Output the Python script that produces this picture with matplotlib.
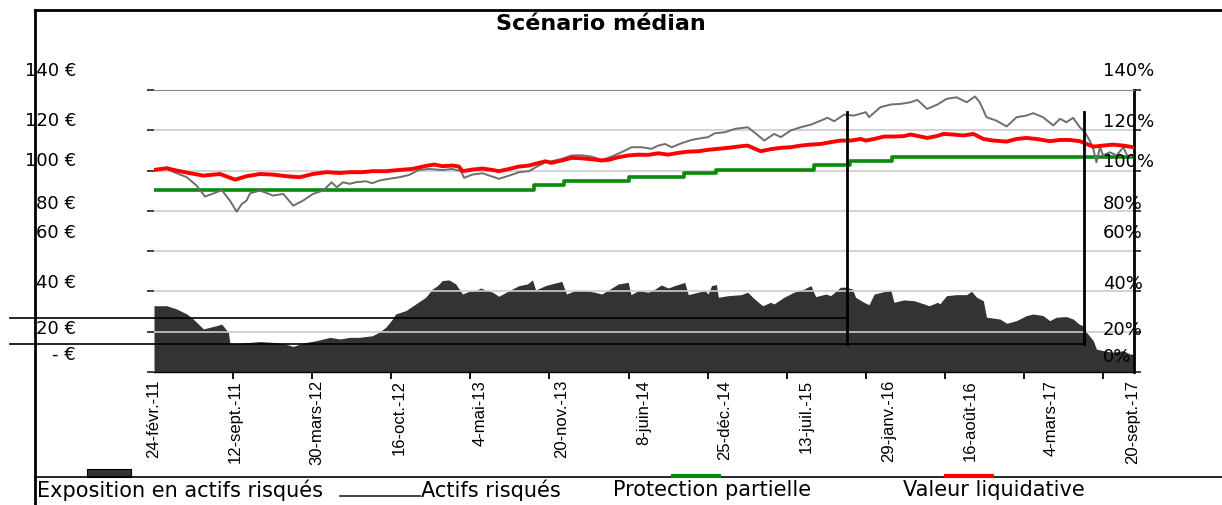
import matplotlib
matplotlib.use("Agg")
import matplotlib.pyplot as plt
import matplotlib.transforms as mtransforms
from matplotlib.lines import Line2D
from matplotlib.patches import Rectangle

# days since 24 Feb 2011
red_days = [0, 32, 57, 91, 125, 167, 205, 234, 268, 301, 335, 369, 402, 436, 470, 495, 527, 552, 586, 620,
            653, 687, 708, 729, 755, 771, 780, 805, 830, 856, 872, 898, 923, 948, 973, 990, 1005, 1031, 1056, 1081,
            1107, 1132, 1149, 1174, 1199, 1225, 1250, 1275, 1300, 1326, 1351, 1376, 1401, 1427, 1452, 1485, 1501,
            1534, 1559, 1585, 1610, 1635, 1661, 1686, 1711, 1736, 1762, 1787, 1800, 1821, 1846, 1871, 1896, 1913,
            1938, 1955, 1981, 1996, 2021, 2046, 2072, 2097, 2122, 2156, 2181, 2206, 2231, 2265, 2291, 2316, 2341,
            2358, 2375, 2400, 2425, 2451, 2476]
red_vals = [100.3, 101.2, 100.0, 98.7, 97.5, 98.3, 95.5, 97.2, 98.3, 98.0, 97.2, 96.7, 98.3, 99.2, 98.8, 99.2,
            99.2, 99.7, 99.7, 100.3, 100.8, 102.3, 103.0, 102.2, 102.5, 102.0, 99.7, 100.5, 101.0, 100.3, 99.7,
            100.8, 102.0, 102.5, 103.8, 104.6, 103.8, 105.0, 106.3, 106.1, 105.6, 105.0, 105.3, 106.6, 107.5,
            107.9, 107.8, 108.6, 107.9, 108.8, 109.4, 109.6, 110.3, 110.8, 111.3, 112.1, 112.4, 109.6, 110.6,
            111.3, 111.6, 112.4, 112.9, 113.2, 114.1, 114.9, 114.9, 115.7, 114.9, 115.7, 116.9, 116.9, 117.1,
            117.9, 116.9, 116.2, 117.2, 118.2, 117.9, 117.4, 118.2, 115.7, 114.9, 114.4, 115.7, 116.2, 115.7,
            114.6, 115.2, 115.2, 114.6, 113.2, 111.9, 112.4, 112.9, 112.4, 111.6]

gray_days = [0, 32, 57, 83, 108, 129, 158, 171, 192, 209, 222, 234, 243, 268, 301, 327, 352, 377, 402, 428,
             449, 462, 478, 495, 510, 536, 552, 569, 594, 620, 645, 670, 695, 729, 755, 776, 784, 805, 830, 856,
             872, 898, 923, 948, 973, 990, 1005, 1031, 1056, 1081, 1107, 1132, 1157, 1182, 1208, 1233, 1258, 1275,
             1292, 1309, 1334, 1359, 1384, 1401, 1418, 1443, 1469, 1501, 1518, 1543, 1568, 1585, 1610, 1635, 1661,
             1686, 1703, 1720, 1745, 1770, 1800, 1808, 1837, 1863, 1888, 1913, 1930, 1955, 1981, 2004, 2029, 2055,
             2076, 2088, 2105, 2130, 2156, 2181, 2206, 2223, 2248, 2274, 2291, 2307, 2324, 2341, 2354, 2366, 2375,
             2383, 2392, 2400, 2417, 2434, 2451, 2463, 2476]
gray_vals = [100.3, 100.8, 98.7, 96.7, 92.5, 87.1, 89.2, 90.4, 85.1, 79.6, 83.4, 85.1, 88.7, 90.1, 87.6, 88.4,
             82.6, 85.1, 88.4, 90.1, 94.2, 91.7, 94.2, 93.4, 94.2, 94.7, 93.7, 95.0, 95.9, 96.7, 97.8, 100.3,
             100.8, 100.3, 100.8, 99.7, 96.4, 98.0, 98.7, 97.0, 95.9, 97.5, 99.2, 99.7, 102.5, 104.1, 104.6,
             105.8, 107.5, 107.6, 106.9, 105.3, 106.9, 109.1, 111.6, 111.6, 110.8, 112.4, 113.2, 111.6, 113.6,
             115.2, 116.1, 116.6, 118.5, 119.0, 120.7, 121.5, 119.0, 114.9, 118.2, 116.6, 119.9, 121.5, 122.8,
             124.8, 126.2, 124.5, 127.8, 127.3, 129.0, 126.5, 131.5, 132.8, 133.1, 133.9, 135.1, 130.6, 132.8,
             135.6, 136.4, 133.9, 136.8, 133.9, 126.5, 124.8, 121.9, 126.5, 127.3, 128.5, 126.5, 122.4, 125.7,
             124.0, 126.2, 121.5, 119.0, 114.9, 110.8, 104.1, 111.6, 107.5, 109.1, 107.5, 111.6, 106.6, 107.9]

green_days = [0, 960, 1036, 1200, 1341, 1422, 1670, 1761, 1867, 2476]
green_vals = [90.5, 92.7, 94.6, 97.0, 98.7, 100.5, 103.0, 104.6, 106.6, 106.6]

expo_days = [0, 32, 57, 83, 99, 125, 158, 171, 188, 192, 217, 243, 268, 301, 327, 352, 377, 411, 445, 470,
             495, 519, 552, 569, 586, 603, 611, 637, 662, 687, 704, 717, 729, 746, 763, 780, 797, 813, 826, 839,
             856, 872, 898, 923, 944, 957, 965, 990, 1005, 1031, 1043, 1064, 1090, 1115, 1132, 1149, 1174, 1199,
             1206, 1225, 1250, 1267, 1283, 1300, 1317, 1342, 1351, 1376, 1393, 1401, 1410, 1422, 1427, 1452, 1485,
             1501, 1518, 1539, 1559, 1568, 1593, 1618, 1644, 1661, 1673, 1699, 1711, 1736, 1749, 1766, 1774, 1795,
             1808, 1821, 1863, 1871, 1896, 1922, 1947, 1960, 1981, 1987, 2004, 2029, 2055, 2067, 2080, 2097, 2105,
             2139, 2156, 2181, 2206, 2223, 2248, 2265, 2282, 2307, 2324, 2341, 2350, 2358, 2375, 2383, 2400, 2425,
             2451, 2468, 2476]
expo_vals = [32.9, 32.9, 31.3, 28.8, 26.3, 21.4, 23.0, 23.8, 19.7, 14.2, 14.2, 14.7, 15.1, 14.7, 14.2, 12.7,
             14.4, 15.6, 17.2, 16.4, 17.2, 17.2, 18.0, 19.7, 22.2, 26.3, 28.8, 30.5, 33.8, 37.1, 41.2, 42.9, 45.4,
             45.7, 43.7, 38.7, 40.1, 40.4, 41.7, 40.7, 39.6, 37.6, 40.4, 42.9, 43.7, 45.7, 40.7, 42.9, 43.7, 45.0,
             38.7, 40.4, 40.4, 39.6, 38.7, 40.7, 43.7, 44.5, 38.4, 40.4, 39.6, 41.2, 43.2, 41.7, 42.9, 44.5, 38.4,
             39.6, 40.4, 38.7, 42.9, 43.4, 37.1, 37.9, 38.4, 39.6, 36.3, 32.9, 34.6, 33.8, 37.1, 39.6, 41.2, 42.9,
             37.4, 38.7, 37.9, 42.1, 42.1, 41.2, 37.1, 34.6, 33.4, 38.7, 40.7, 34.6, 35.8, 35.4, 33.8, 32.9, 34.6,
             33.8, 37.9, 38.4, 38.4, 40.1, 37.1, 35.4, 27.2, 26.3, 24.2, 25.5, 28.0, 28.8, 28.0, 25.5, 27.2, 27.5,
             26.3, 23.5, 23.0, 19.7, 15.6, 11.4, 10.6, 9.8, 10.6, 8.9, 8.9]

date_labels = ["24-févr.-11", "12-sept.-11", "30-mars-12", "16-oct.-12", "4-mai-13", "20-nov.-13", "8-juin-14",
               "25-déc.-14", "13-juil.-15", "29-janv.-16", "16-août-16", "4-mars-17", "20-sept.-17"]
left_labels = ["140 €", "120 €", "100 €", "80 €", "60 €", "40 €", "20 €", "- €"]
left_label_pos = [149.9, 125.1, 105.2, 83.9, 69.5, 44.7, 21.8, 8.9]
right_labels = ["140%", "120%", "100%", "80%", "60%", "40%", "20%", "0%"]
right_label_pos = [149.9, 124.6, 104.8, 83.9, 69.5, 44.2, 21.3, 7.9]

W, H = 1222, 506
fig = plt.figure(figsize=(W / 100, H / 100), dpi=100)


def fx(x):
    return x / W


def fy(y):
    return 1 - y / H


ax = fig.add_axes([fx(154), fy(373), (1134 - 154) / W, (373 - 91) / H])

ax.fill_between(expo_days, expo_vals, 0, color="#333333", lw=0, zorder=1)
for v in range(20, 140, 20):
    ax.axhline(v, color="#cccccc", lw=1.2, zorder=1.5)
ax.step(green_days, green_vals, where="post", color="#0a8a0a", lw=2.6, zorder=3)
ax.plot(gray_days, gray_vals, color="#6e6e6e", lw=1.4, zorder=3.5)
ax.plot(red_days, red_vals, color="#ff0000", lw=2.8, zorder=4)

ax.set_xlim(0, 2478)
ax.set_ylim(0, 140)

ax.spines["left"].set_visible(False)
ax.spines["top"].set_color("#888888")
ax.spines["right"].set_linewidth(2)
ax.spines["bottom"].set_linewidth(1)

ax.set_yticks(range(0, 141, 20))
ax.set_yticklabels([])
ax.tick_params(axis="y", left=True, right=True, length=5, width=1.3, color="#333333", direction="out")

ax.set_xticks(range(0, 2401, 200), minor=True)
ax.set_xticks([i * 206.3 for i in range(len(date_labels))])
ax.set_xticklabels(date_labels, rotation=90, fontsize=12,
                   family=["Liberation Sans Narrow", "Liberation Sans", "DejaVu Sans"])
ax.tick_params(axis="x", which="major", length=0, pad=5)
ax.tick_params(axis="x", which="minor", length=5, width=1.3, color="black")

trans = mtransforms.blended_transform_factory(ax.transAxes, ax.transData)
for v, s in zip(left_label_pos, left_labels):
    ax.text(-0.0796, v, s, transform=trans, ha="right", va="center", fontsize=13, clip_on=False)
for v, s in zip(right_label_pos, right_labels):
    ax.text(0.9684, v, s, transform=trans, ha="left", va="center", fontsize=13, clip_on=False, zorder=6)

fig.text(fx(601), fy(24), "Scénario médian", ha="center", va="center", fontsize=16, fontweight="bold")

# frame and separator
fig.add_artist(Line2D([fx(35), fx(1222)], [fy(11), fy(11)], color="black", lw=2))
fig.add_artist(Line2D([fx(35), fx(35)], [fy(11), fy(506)], color="black", lw=2))
fig.add_artist(Line2D([fx(35), fx(1222)], [fy(478), fy(478)], color="black", lw=1.2))

# drawn shapes over the chart
fig.add_artist(Line2D([fx(10), fx(847)], [fy(319), fy(319)], color="black", lw=1.2))
fig.add_artist(Line2D([fx(10), fx(1084)], [fy(345), fy(345)], color="black", lw=1.2))
fig.add_artist(Line2D([fx(847), fx(847)], [fy(113), fy(345)], color="black", lw=2))
fig.add_artist(Line2D([fx(1084), fx(1084)], [fy(113), fy(345)], color="black", lw=2))

# legend
fig.add_artist(Rectangle((fx(87), fy(478)), fx(131) - fx(87), 8 / H, transform=fig.transFigure,
                         facecolor="#333333", edgecolor="black", lw=0.8))
fig.add_artist(Line2D([fx(340), fx(420)], [fy(497), fy(497)], color="#222222", lw=1.2))
fig.add_artist(Line2D([fx(673), fx(719)], [fy(477), fy(477)], color="#0a8a0a", lw=3))
fig.add_artist(Line2D([fx(946), fx(992)], [fy(477), fy(477)], color="#ff0000", lw=3))
fig.text(fx(37), fy(490), "Exposition en actifs risqués", ha="left", va="center", fontsize=15)
fig.text(fx(421), fy(490), "Actifs risqués", ha="left", va="center", fontsize=15)
fig.text(fx(613), fy(490), "Protection partielle", ha="left", va="center", fontsize=15)
fig.text(fx(903), fy(490), "Valeur liquidative", ha="left", va="center", fontsize=15)

fig.savefig("out.png", dpi=100)
